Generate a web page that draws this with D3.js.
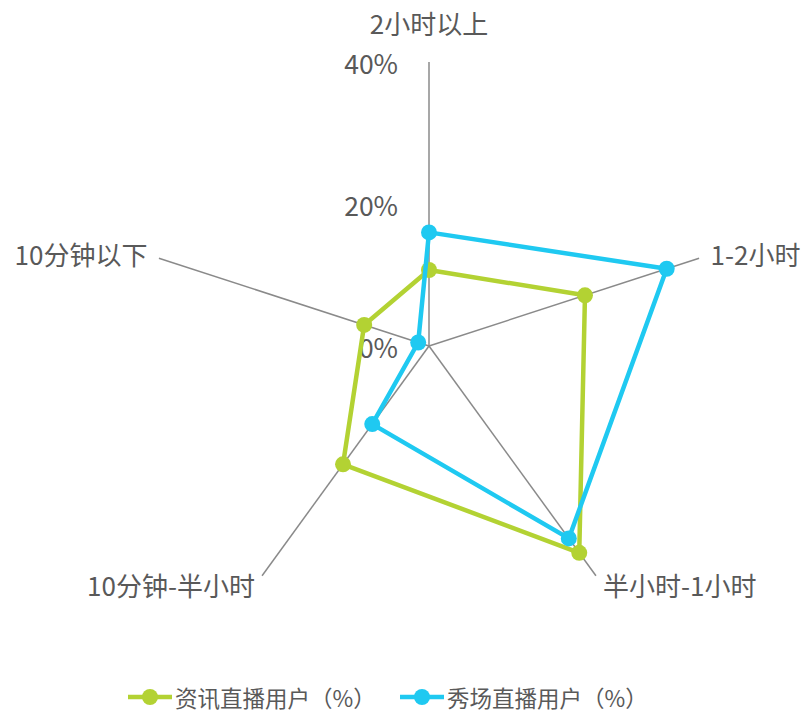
<!DOCTYPE html>
<html>
<head>
<meta charset="utf-8">
<script src="https://cdn.jsdelivr.net/npm/d3@7"></script>
<style>
  body { margin: 0; background: #fff; }
  text { font-family: "Noto Sans CJK SC", "Noto Sans", sans-serif; fill: #595959; }
</style>
</head>
<body>
<div id="app"></div>
<script>
const container = document.querySelector('#app');

// chart size
const width = 808;
const height = 714;
const cx = 429;
const cy = 346;
const radius = 284;

// data
const categories = ["2小时以上", "1-2小时", "半小时-1小时", "10分钟-半小时", "10分钟以下"];
const seriesNames = ["资讯直播用户（%）", "秀场直播用户（%）"];
const newsValues = [10.7, 23.1, 36.0, 20.6, 9.6];
const showValues = [16.0, 35.2, 33.5, 13.6, 1.6];
const tickValues = [0, 20, 40];
const colors = ["#b3d233", "#1fc9f1"];

const series = [newsValues, showValues];

// scales
const r = d3.scaleLinear().domain([0, 40]).range([0, radius]);
const angle = d3.scalePoint()
    .domain(categories)
    .range([0, 2 * Math.PI * (categories.length - 1) / categories.length]);

const px = (c, v) => cx + r(v) * Math.sin(angle(c));
const py = (c, v) => cy - r(v) * Math.cos(angle(c));

const svg = d3.create("svg")
    .attr("width", width)
    .attr("height", height);

// spokes
svg.append("g")
  .selectAll("line")
  .data(categories)
  .join("line")
    .attr("x1", cx)
    .attr("y1", cy)
    .attr("x2", d => px(d, 40))
    .attr("y2", d => py(d, 40))
    .attr("stroke", "#8a8a8a")
    .attr("stroke-width", 1.5);

// tick labels along the top spoke
svg.append("g")
  .selectAll("text")
  .data(tickValues)
  .join("text")
    .attr("x", cx - 31)
    .attr("y", d => cy - r(d))
    .attr("text-anchor", "end")
    .attr("dominant-baseline", "central")
    .attr("font-size", 26.5)
    .text(d => d + "%");

// category labels
svg.append("g")
  .selectAll("text")
  .data(categories)
  .join("text")
    .attr("x", d => cx + (radius + 12) * Math.sin(angle(d)))
    .attr("y", d => {
      const s = Math.sin(angle(d));
      const y = cy - (radius + 12) * Math.cos(angle(d));
      return Math.abs(s) < 0.1 ? y - 28 : y - 1;
    })
    .attr("text-anchor", d => {
      const s = Math.sin(angle(d));
      return Math.abs(s) < 0.1 ? "middle" : (s > 0 ? "start" : "end");
    })
    .attr("dominant-baseline", "central")
    .attr("font-size", 26)
    .text(d => d);

// series polygons
const line = d3.lineRadial()
    .angle((d, i) => angle(categories[i]))
    .radius(d => r(d))
    .curve(d3.curveLinearClosed);

series.forEach((vals, k) => {
  const g = svg.append("g").attr("transform", `translate(${cx},${cy})`);
  g.append("path")
    .datum(vals)
    .attr("fill", "none")
    .attr("stroke", colors[k])
    .attr("stroke-width", 4.5)
    .attr("stroke-linejoin", "round")
    .attr("d", line);
  g.selectAll("circle")
    .data(vals)
    .join("circle")
      .attr("cx", (d, i) => r(d) * Math.sin(angle(categories[i])))
      .attr("cy", (d, i) => -r(d) * Math.cos(angle(categories[i])))
      .attr("r", 8)
      .attr("fill", colors[k]);
});

// legend
const legendX = [128, 400];
const legend = svg.append("g")
  .selectAll("g")
  .data(seriesNames)
  .join("g")
    .attr("transform", (d, i) => `translate(${legendX[i]},697)`);

legend.append("line")
    .attr("x1", 0)
    .attr("x2", 44)
    .attr("stroke", (d, i) => colors[i])
    .attr("stroke-width", 4.5);
legend.append("circle")
    .attr("cx", 22)
    .attr("r", 8)
    .attr("fill", (d, i) => colors[i]);
legend.append("text")
    .attr("x", 47)
    .attr("dominant-baseline", "central")
    .attr("font-size", 22.5)
    .text(d => d);

container.append(svg.node());
</script>
</body>
</html>
